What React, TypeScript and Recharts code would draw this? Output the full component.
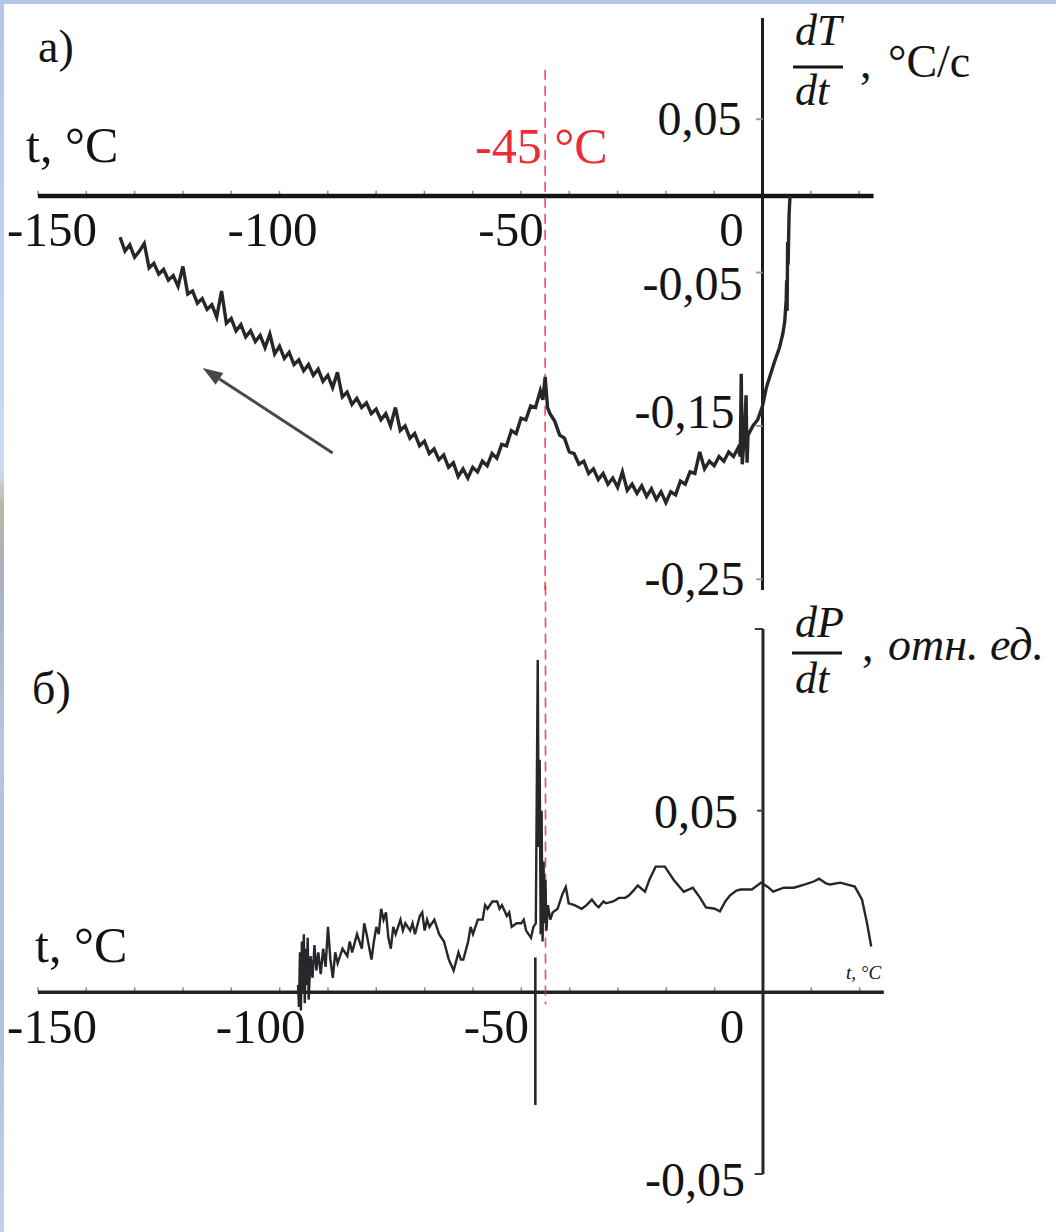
import React from "react";
import { LineChart, Line, XAxis, YAxis, ReferenceLine } from "recharts";

// panel a) : dT/dt (°C/c) against t (°C)
const TEMP_A = [
  -133, -132, -131, -130, -129, -128, -127, -126, -125, -124,
  -123, -122, -121, -120, -119, -118, -117, -116, -115, -114,
  -113, -112, -111, -110, -109, -108, -107, -106, -105, -104,
  -103, -102, -101, -100, -99, -98, -97, -96, -95, -94,
  -93, -92, -91, -90, -89, -88, -87, -86, -85, -84,
  -83, -82, -81, -80, -79, -78, -77, -76, -75, -74,
  -73, -72, -71, -70, -69, -68, -67, -66, -65, -64,
  -63, -62, -61, -60, -59, -58, -57, -56, -55, -54,
  -53, -52, -51, -50, -49, -48, -47, -46, -45.5, -45,
  -44.5, -44, -43, -42, -41, -40, -39, -38, -37, -36,
  -35, -34, -33, -32, -31, -30, -29, -28, -27, -26,
  -25, -24, -23, -22, -21, -20, -19, -18, -17, -16,
  -15, -14, -13, -12, -11, -10, -9, -8, -7, -6,
  -5, -4.6, -4.4, -4.2, -3.8, -3.4, -3.2, -3, -2, -1,
  0, 0.8, 1.5, 2.5, 3.5, 4.2, 4.6, 4.9, 5.0, 5.1,
  5.2, 5.3, 5.5, 5.7,
];
const DTDT_A = [
  -0.027, -0.036, -0.032, -0.040, -0.036, -0.031, -0.047, -0.044, -0.051, -0.048,
  -0.055, -0.052, -0.059, -0.046, -0.064, -0.062, -0.070, -0.067, -0.074, -0.071,
  -0.079, -0.062, -0.083, -0.080, -0.088, -0.084, -0.092, -0.088, -0.095, -0.091,
  -0.099, -0.090, -0.103, -0.098, -0.106, -0.102, -0.110, -0.107, -0.114, -0.110,
  -0.117, -0.113, -0.121, -0.117, -0.125, -0.115, -0.131, -0.128, -0.136, -0.132,
  -0.138, -0.135, -0.142, -0.139, -0.146, -0.142, -0.150, -0.138, -0.153, -0.150,
  -0.158, -0.155, -0.163, -0.160, -0.168, -0.165, -0.172, -0.169, -0.177, -0.174,
  -0.183, -0.178, -0.184, -0.177, -0.180, -0.173, -0.176, -0.168, -0.171, -0.162,
  -0.163, -0.153, -0.155, -0.145, -0.146, -0.137, -0.138, -0.127, -0.133, -0.118,
  -0.138, -0.142, -0.147, -0.156, -0.158, -0.167, -0.168, -0.175, -0.173, -0.181,
  -0.178, -0.185, -0.181, -0.188, -0.184, -0.190, -0.180, -0.192, -0.188, -0.194,
  -0.189, -0.196, -0.191, -0.198, -0.193, -0.200, -0.193, -0.195, -0.186, -0.188,
  -0.180, -0.181, -0.167, -0.178, -0.173, -0.176, -0.170, -0.173, -0.167, -0.170,
  -0.164, -0.170, -0.116, -0.175, -0.158, -0.130, -0.174, -0.156, -0.150, -0.146,
  -0.137, -0.125, -0.118, -0.108, -0.099, -0.090, -0.082, -0.068, -0.055, -0.075,
  -0.030, -0.045, -0.012, 0.0,
];

// panel б) : dP/dt (отн. ед.) against t (°C)
const TEMP_B = [
  -96.2, -96.0, -95.8, -95.6, -95.4, -95.2, -95.0, -94.8, -94.6, -94.4,
  -94.2, -94.0, -93.6, -93.2, -92.8, -92.4, -92, -91.5, -91, -90.5,
  -90, -89.5, -89, -88.5, -88, -87, -86, -85.5, -85, -84,
  -83, -82.5, -82, -81, -80.5, -80, -79.5, -79, -78.5, -78,
  -77.5, -77, -76.5, -76, -75, -74.5, -74, -73, -72.5, -72,
  -71, -70.5, -70, -69.5, -69, -68, -67.5, -67, -66, -65,
  -64, -63, -62.5, -62, -61, -60.5, -60, -59, -58, -57.5,
  -57, -56, -55, -54.5, -54, -53, -52.5, -52, -51, -50,
  -49.5, -49, -48, -47.5, -47, -46.6, -46.4, -46.2, -46.0, -45.8,
  -45.6, -45.4, -45.2, -45.0, -44.8, -44.5, -44, -43.5, -42.5, -41.5,
  -40.8, -40.2, -39, -37.5, -36.5, -35.4, -34.5, -34, -33, -32.5,
  -31, -29.8, -28.5, -27.7, -26.8, -25.9, -24.4, -23.5, -22.2, -20.3,
  -18.5, -16.4, -14.5, -13, -11.8, -10, -8.9, -7.8, -6.8, -5.5,
  -4.6, -2.3, -0.4, 1, 2.1, 4.3, 6.4, 8.7, 10.5, 11.6,
  13, 13.9, 16, 19, 20.5, 21.5, 22.4,
];
const DPDT_B = [
  0.002, -0.004, 0.011, -0.005, 0.014, 0.0, 0.016, -0.003, 0.012, 0.002,
  0.015, -0.002, 0.010, 0.004, 0.013, 0.006, 0.011, 0.005, 0.012, 0.007,
  0.018, 0.009, 0.004, 0.011, 0.008, 0.012, 0.010, 0.014, 0.011, 0.016,
  0.012, 0.019, 0.016, 0.009, 0.014, 0.018, 0.016, 0.023, 0.020, 0.022,
  0.015, 0.012, 0.018, 0.016, 0.020, 0.017, 0.019, 0.017, 0.019, 0.016,
  0.021, 0.022, 0.017, 0.020, 0.018, 0.020, 0.018, 0.016, 0.014, 0.009,
  0.006, 0.011, 0.009, 0.009, 0.014, 0.018, 0.016, 0.020, 0.020, 0.024,
  0.023, 0.025, 0.025, 0.023, 0.024, 0.021, 0.022, 0.018, 0.019, 0.019,
  0.020, 0.017, 0.015, 0.018, 0.019, 0.0915, 0.040, 0.064, 0.016, 0.050,
  0.014, 0.036, 0.019, 0.031, 0.017, 0.024, 0.020, 0.022, 0.023, 0.027,
  0.029, 0.0245, 0.024, 0.023, 0.024, 0.0255, 0.024, 0.0234, 0.025, 0.0245,
  0.025, 0.026, 0.026, 0.0267, 0.028, 0.0294, 0.0277, 0.031, 0.0346, 0.0346,
  0.031, 0.0277, 0.0288, 0.026, 0.0234, 0.023, 0.0223, 0.025, 0.0267, 0.028,
  0.0283, 0.0283, 0.0302, 0.029, 0.0277, 0.0288, 0.0288, 0.0297, 0.0305, 0.0313,
  0.030, 0.0297, 0.0302, 0.0291, 0.0255, 0.0192, 0.0126,
];
// detached short stroke just left of the big spike
const SPIKE_TEMP_B = [-47.1, -47.1];
const SPIKE_DPDT_B = [0.0096, -0.031];

const MINOR_TICKS = [-150, -140, -130, -120, -110, -100, -90, -80, -70, -60, -50, -40, -30, -20, -10, 0, 10, 20];
const X_LABELS = [-150, -100, -50, 0];
const Y_TICKS_A = [0.05, -0.05, -0.15, -0.25];
const Y_TICKS_B = [0.1, 0.05, -0.05];
const Y_LABELS_B = [0.05, -0.05];

const MARK_T = -45;
const ARROW_T = [-89, -115.9];
const ARROW_V = [-0.1676, -0.1122];

const DOMAIN_T_A: [number, number] = [-150, 23];
const DOMAIN_V_A: [number, number] = [-0.257, 0.116];
const DOMAIN_T_B: [number, number] = [-150, 25];
const DOMAIN_V_B: [number, number] = [-0.05, 0.1];

const SERIF = '"Liberation Serif", "Times New Roman", serif';
const INK = "#141414";
const CURVE = "#26262b";
const RED = "#ee2b33";

// hand placement of tick labels, as in the source figure
const X_NUDGE_A: Record<string, number> = { "-150": 14, "-100": -7, "-50": -10, "0": -31 };
const X_NUDGE_B: Record<string, number> = { "-150": 14, "-100": -19, "-50": -25, "0": -31 };
const Y_NUDGE_A: Record<string, [number, number]> = {
  "0.05": [-21, 16],
  "-0.05": [-20, 27],
  "-0.15": [-28, 2],
  "-0.25": [-18, 16],
};
const Y_NUDGE_B: Record<string, [number, number]> = { "0.05": [-25, 17], "-0.05": [-18, 22] };

const fmt = (v: number) => v.toFixed(2).replace(".", ",");

const dataA = TEMP_A.map((t, i) => ({ t, v: DTDT_A[i] }));
const dataB = TEMP_B.map((t, i) => ({ t, v: DPDT_B[i] }));
const spikeB = SPIKE_TEMP_B.map((t, i) => ({ t, v: SPIKE_DPDT_B[i] }));

function XTick(props: any) {
  const { x1, y1, x2, y2, text, nudge, drop } = props;
  const axisY = Math.max(y1, y2);
  return (
    <g>
      <line x1={x1} y1={y1} x2={x2} y2={y2} stroke="#8a8a8a" strokeWidth={1.5} />
      {text != null && (
        <text x={x1 + nudge} y={axisY + drop} textAnchor="middle" fontSize={49} fontFamily={SERIF} fill={INK}>
          {text}
        </text>
      )}
    </g>
  );
}

function YTick(props: any) {
  const { x1, y1, x2, y2, text, dx, dy, color } = props;
  const axisX = Math.max(x1, x2);
  return (
    <g>
      <line x1={x1} y1={y1} x2={x2} y2={y2} stroke={color} strokeWidth={2} />
      {text != null && (
        <text x={axisX + dx} y={y1 + dy} textAnchor="end" fontSize={48} fontFamily={SERIF} fill={INK}>
          {text}
        </text>
      )}
    </g>
  );
}

function Arrow(props: any) {
  const { x1, y1, x2, y2 } = props;
  const a = Math.atan2(y2 - y1, x2 - x1);
  const len = 20;
  const half = 7;
  const bx = x2 - len * Math.cos(a);
  const by = y2 - len * Math.sin(a);
  const p1 = `${bx + half * Math.sin(a)},${by - half * Math.cos(a)}`;
  const p2 = `${bx - half * Math.sin(a)},${by + half * Math.cos(a)}`;
  return (
    <g>
      <line x1={x1} y1={y1} x2={bx} y2={by} stroke="#47474c" strokeWidth={3} />
      <polygon points={`${x2},${y2} ${p1} ${p2}`} fill="#47474c" />
    </g>
  );
}

function PanelA() {
  return (
    <LineChart width={1056} height={620} data={dataA} margin={{ top: 18, right: 182.4, bottom: 30, left: 38 }}>
      <XAxis type="number" dataKey="t" domain={DOMAIN_T_A} allowDataOverflow hide />
      <YAxis type="number" domain={DOMAIN_V_A} allowDataOverflow hide />
      {MINOR_TICKS.map((t) => (
        <ReferenceLine
          key={`xt${t}`}
          segment={[{ x: t, y: 0 }, { x: t, y: 0.0033 }]}
          shape={(p: any) => (
            <XTick {...p} text={X_LABELS.includes(t) ? String(t) : null} nudge={X_NUDGE_A[String(t)] ?? 0} drop={50} />
          )}
        />
      ))}
      <ReferenceLine segment={[{ x: DOMAIN_T_A[0], y: 0 }, { x: DOMAIN_T_A[1], y: 0 }]} stroke={INK} strokeWidth={4.5} />
      <ReferenceLine segment={[{ x: 0, y: DOMAIN_V_A[1] }, { x: 0, y: DOMAIN_V_A[0] }]} stroke="#1e1e1e" strokeWidth={3} />
      {Y_TICKS_A.map((v) => (
        <ReferenceLine
          key={`yt${v}`}
          segment={[{ x: -1.3, y: v }, { x: 0, y: v }]}
          shape={(p: any) => {
            const [dx, dy] = Y_NUDGE_A[String(v)];
            return <YTick {...p} text={fmt(v)} dx={dx} dy={dy} color="#9a9a9a" />;
          }}
        />
      ))}
      <ReferenceLine
        segment={[{ x: MARK_T, y: 0.0822 }, { x: MARK_T, y: DOMAIN_V_A[0] }]}
        stroke={RED}
        strokeOpacity={0.85}
        strokeWidth={1.6}
        strokeDasharray="10 6"
        ifOverflow="visible"
      />
      <ReferenceLine
        segment={[{ x: ARROW_T[0], y: ARROW_V[0] }, { x: ARROW_T[1], y: ARROW_V[1] }]}
        shape={(p: any) => <Arrow {...p} />}
      />
      <Line
        type="linear"
        dataKey="v"
        stroke={CURVE}
        strokeWidth={3.4}
        strokeLinejoin="miter"
        dot={false}
        isAnimationActive={false}
      />
    </LineChart>
  );
}

function PanelB() {
  return (
    <LineChart width={1056} height={652} data={dataB} margin={{ top: 49, right: 172.2, bottom: 58, left: 38 }}>
      <XAxis type="number" dataKey="t" domain={DOMAIN_T_B} allowDataOverflow hide />
      <YAxis type="number" domain={DOMAIN_V_B} allowDataOverflow hide />
      {MINOR_TICKS.map((t) => (
        <ReferenceLine
          key={`xt${t}`}
          segment={[{ x: t, y: 0 }, { x: t, y: 0.0014 }]}
          shape={(p: any) => (
            <XTick {...p} text={X_LABELS.includes(t) ? String(t) : null} nudge={X_NUDGE_B[String(t)] ?? 0} drop={51} />
          )}
        />
      ))}
      <ReferenceLine segment={[{ x: DOMAIN_T_B[0], y: 0 }, { x: DOMAIN_T_B[1], y: 0 }]} stroke="#222" strokeWidth={3.5} />
      <ReferenceLine segment={[{ x: 0, y: DOMAIN_V_B[1] }, { x: 0, y: DOMAIN_V_B[0] }]} stroke="#262626" strokeWidth={3} />
      {Y_TICKS_B.map((v) => (
        <ReferenceLine
          key={`yt${v}`}
          segment={[{ x: v === 0.05 ? -1.2 : -1.7, y: v }, { x: 0, y: v }]}
          shape={(p: any) => {
            const nudge = Y_NUDGE_B[String(v)];
            return (
              <YTick
                {...p}
                text={Y_LABELS_B.includes(v) ? fmt(v) : null}
                dx={nudge ? nudge[0] : 0}
                dy={nudge ? nudge[1] : 0}
                color="#3a3a3a"
              />
            );
          }}
        />
      ))}
      <ReferenceLine
        segment={[{ x: MARK_T, y: 0.112 }, { x: MARK_T, y: -0.0033 }]}
        stroke={RED}
        strokeOpacity={0.85}
        strokeWidth={1.6}
        strokeDasharray="10 6"
        ifOverflow="visible"
      />
      <Line type="linear" dataKey="v" stroke={CURVE} strokeWidth={2.4} dot={false} isAnimationActive={false} />
      <Line type="linear" data={spikeB} dataKey="v" stroke={CURVE} strokeWidth={2.6} dot={false} isAnimationActive={false} />
    </LineChart>
  );
}

function Annotations() {
  const txt = { fontFamily: SERIF, fill: INK };
  return (
    <svg width={1056} height={1232} style={{ position: "absolute", left: 0, top: 0, pointerEvents: "none" }}>
      <text x={38} y={62} fontSize={46} {...txt}>a)</text>
      <text x={26} y={162} fontSize={50} {...txt}>t, °C</text>
      <text x={475} y={163} fontSize={50} fontFamily={SERIF} fill={RED}>-45 °C</text>

      <text x={795} y={45} fontSize={44} fontStyle="italic" {...txt}>dT</text>
      <line x1={793} y1={67} x2={843} y2={67} stroke={INK} strokeWidth={3} />
      <text x={795} y={105} fontSize={44} fontStyle="italic" {...txt}>dt</text>
      <text x={860} y={78} fontSize={46} {...txt}>,</text>
      <text x={888} y={77} fontSize={46} {...txt}>°C/с</text>

      <text x={32} y={704} fontSize={46} {...txt}>б)</text>
      <text x={35} y={962} fontSize={50} {...txt}>t, °C</text>
      <text x={846} y={979} fontSize={19} fontStyle="italic" {...txt}>t, °C</text>

      <text x={795} y={637} fontSize={44} fontStyle="italic" {...txt}>dP</text>
      <line x1={792} y1={653} x2={842} y2={653} stroke={INK} strokeWidth={3} />
      <text x={795} y={693} fontSize={44} fontStyle="italic" {...txt}>dt</text>
      <text x={862} y={661} fontSize={46} {...txt}>,</text>
      <text x={888} y={660} fontSize={46} fontStyle="italic" {...txt}>отн. ед.</text>
    </svg>
  );
}

export default function App() {
  return (
    <div
      style={{
        position: "absolute",
        left: 0,
        top: 0,
        width: 1056,
        height: 1232,
        background: "#ffffff",
        overflow: "hidden",
      }}
    >
      <div style={{ position: "absolute", left: 0, top: 0, width: 1056, height: 4, background: "#b4c6e8" }} />
      <div
        style={{
          position: "absolute",
          left: 0,
          top: 0,
          width: 4,
          height: 1232,
          background:
            "linear-gradient(to bottom, #b4c6e8 0%, #c4d6f2 30%, #cddcf2 38%, #bdb6a6 41%, #a9b1bd 46%, #b7c5dc 60%, #aebfdc 80%, #c2d0ea 100%)",
        }}
      />
      <div style={{ position: "absolute", left: 0, top: 0 }}>
        <PanelA />
      </div>
      <div style={{ position: "absolute", left: 0, top: 580 }}>
        <PanelB />
      </div>
      <Annotations />
    </div>
  );
}
